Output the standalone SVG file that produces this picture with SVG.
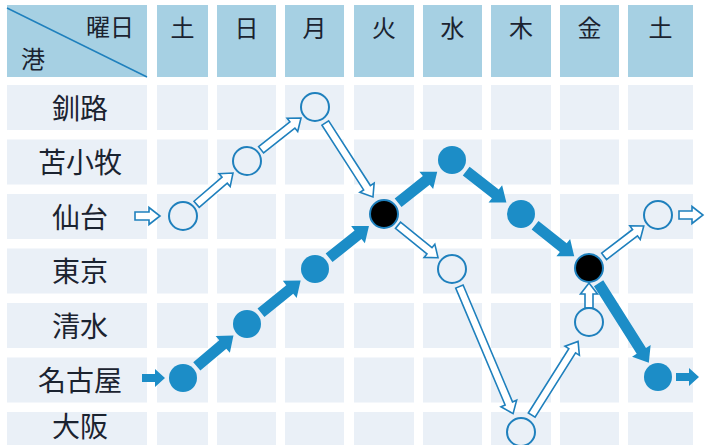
<svg xmlns="http://www.w3.org/2000/svg" width="714" height="445" viewBox="0 0 714 445">
<style>
.hd{fill:#a6d0e3}
.cl{fill:#eaf0f7}
.t{font-family:"Noto Sans CJK JP","Noto Sans CJK SC",sans-serif;fill:#1b2330}
.day{font-size:24px;text-anchor:middle}
.lab{font-size:28px;text-anchor:middle}
.oc{fill:none;stroke:#1f80bd;stroke-width:2}
.fc{fill:#1c8dc7}
.bc{fill:#000;stroke:#1f80bd;stroke-width:2}
.o{fill:#fff;stroke:#1f80bd;stroke-width:1.6;stroke-linejoin:miter}
.f{fill:#1c8dc7}
</style>
<rect width="714" height="445" fill="#fff"/>
<g id="grid">
<rect class="hd" x="7" y="5" width="140" height="72"/>
<rect class="hd" x="157" y="5" width="51" height="72"/>
<rect class="hd" x="217" y="5" width="59" height="72"/>
<rect class="hd" x="285" y="5" width="59" height="72"/>
<rect class="hd" x="354" y="5" width="60" height="72"/>
<rect class="hd" x="423" y="5" width="59" height="72"/>
<rect class="hd" x="491" y="5" width="60" height="72"/>
<rect class="hd" x="560" y="5" width="59" height="72"/>
<rect class="hd" x="628" y="5" width="65" height="72"/>
<line x1="7" y1="8" x2="147" y2="77" stroke="#1f80bd" stroke-width="1.5"/>
<g id="rows">
<g id="r0"><rect class="cl" x="7" y="85" width="140" height="45"/><rect class="cl" x="157" y="85" width="51" height="45"/><rect class="cl" x="217" y="85" width="59" height="45"/><rect class="cl" x="285" y="85" width="59" height="45"/><rect class="cl" x="354" y="85" width="60" height="45"/><rect class="cl" x="423" y="85" width="59" height="45"/><rect class="cl" x="491" y="85" width="60" height="45"/><rect class="cl" x="560" y="85" width="59" height="45"/><rect class="cl" x="628" y="85" width="65" height="45"/></g>
<use href="#r0" y="54.5"/>
<use href="#r0" y="109"/>
<use href="#r0" y="163.5"/>
<use href="#r0" y="218"/>
<use href="#r0" y="272.5"/>
<use href="#r0" y="327"/>
</g>
</g>
<g id="header-text" class="t">
<text class="day" x="182.5" y="37">土</text>
<text class="day" x="246.5" y="37">日</text>
<text class="day" x="314.5" y="37">月</text>
<text class="day" x="384" y="37">火</text>
<text class="day" x="452.5" y="37">水</text>
<text class="day" x="521" y="37">木</text>
<text class="day" x="589.5" y="37">金</text>
<text class="day" x="660.5" y="37">土</text>
<text x="134" y="36" font-size="24" text-anchor="end">曜日</text>
<text x="21" y="67.5" font-size="24">港</text>
</g>
<g id="port-labels" class="t">
<text class="lab" x="80" y="118.5">釧路</text>
<text class="lab" x="80" y="173">苫小牧</text>
<text class="lab" x="80" y="227.5">仙台</text>
<text class="lab" x="80" y="282">東京</text>
<text class="lab" x="80" y="336.5">清水</text>
<text class="lab" x="80" y="391">名古屋</text>
<text class="lab" x="80" y="437">大阪</text>
</g>
<g id="connectors">
<path class="o" transform="translate(135,216)" d="M0,-4H14V-8.5L25,0L14,8.5V4H0Z"/>
<path class="o" transform="translate(196.6,204.3) rotate(-40.7)" d="M0,-4H37V-8.5L48,0L37,8.5V4H0Z"/>
<path class="o" transform="translate(261.1,149.8) rotate(-38.5)" d="M0,-4H40V-8.5L51,0L40,8.5V4H0Z"/>
<path class="o" transform="translate(325.3,123) rotate(57.2)" d="M0,-4H77V-8.5L88,0L77,8.5V4H0Z"/>
<path class="o" transform="translate(398,225.3) rotate(39)" d="M0,-4H40.5V-8.5L51.5,0L40.5,8.5V4H0Z"/>
<path class="o" transform="translate(459.4,286.5) rotate(67.1)" d="M0,-4H127V-8.5L138,0L127,8.5V4H0Z"/>
<path class="o" transform="translate(531.7,415.1) rotate(-57.8)" d="M0,-4H76V-8.5L87,0L76,8.5V4H0Z"/>
<path class="o" transform="translate(589,308) rotate(-90)" d="M0,-4H14V-8.5L25,0L14,8.5V4H0Z"/>
<path class="o" transform="translate(604.1,256.4) rotate(-37.5)" d="M0,-4H39V-8.5L50,0L39,8.5V4H0Z"/>
<path class="o" transform="translate(679,215)" d="M0,-4H13V-8.5L24,0L13,8.5V4H0Z"/>
<path class="f" transform="translate(142,378)" d="M0,-4H13V-9L23,0L13,9V4H0Z"/>
<path class="f" transform="translate(196.8,366.4) rotate(-40.2)" d="M0,-5.5H34V-11L48,0L34,11V5.5H0Z"/>
<path class="f" transform="translate(261,312.7) rotate(-39)" d="M0,-5.5H37V-11L51,0L37,11V5.5H0Z"/>
<path class="f" transform="translate(329.1,257.8) rotate(-38.6)" d="M0,-5.5H37V-11L51,0L37,11V5.5H0Z"/>
<path class="f" transform="translate(398.1,202.8) rotate(-38.5)" d="M0,-5.5H36V-11L50,0L36,11V5.5H0Z"/>
<path class="f" transform="translate(466.2,171.1) rotate(38)" d="M0,-5.5H37V-11L51,0L37,11V5.5H0Z"/>
<path class="f" transform="translate(535.1,225.2) rotate(38.5)" d="M0,-5.5H36V-11L50,0L36,11V5.5H0Z"/>
<path class="f" transform="translate(598.6,283.2) rotate(57.7)" d="M0,-5.5H80V-11L94,0L80,11V5.5H0Z"/>
<path class="f" transform="translate(676,377)" d="M0,-4H13V-9L23,0L13,9V4H0Z"/>
</g>
<g id="nodes">
<g id="n-sendai-sat1"><circle class="oc" cx="183" cy="216" r="14"/></g>
<g id="n-tomakomai-sun"><circle class="oc" cx="247" cy="161" r="14"/></g>
<g id="n-kushiro-mon"><circle class="oc" cx="315" cy="107" r="14"/></g>
<g id="n-tokyo-wed"><circle class="oc" cx="452" cy="269" r="14"/></g>
<g id="n-osaka-thu"><circle class="oc" cx="521" cy="432" r="14"/></g>
<g id="n-shimizu-fri"><circle class="oc" cx="589" cy="322" r="14"/></g>
<g id="n-sendai-sat2"><circle class="oc" cx="658" cy="215" r="14"/></g>
<g id="n-nagoya-sat1"><circle class="fc" cx="183" cy="378" r="14"/></g>
<g id="n-shimizu-sun"><circle class="fc" cx="247" cy="324" r="14"/></g>
<g id="n-tokyo-mon"><circle class="fc" cx="315" cy="269" r="14"/></g>
<g id="n-tomakomai-wed"><circle class="fc" cx="452" cy="160" r="14"/></g>
<g id="n-sendai-thu"><circle class="fc" cx="521" cy="214" r="14"/></g>
<g id="n-nagoya-sat2"><circle class="fc" cx="658" cy="377" r="14"/></g>
<g id="n-sendai-tue"><circle class="bc" cx="384" cy="214" r="14"/></g>
<g id="n-tokyo-fri"><circle class="bc" cx="589" cy="268" r="14"/></g>
</g>
</svg>
